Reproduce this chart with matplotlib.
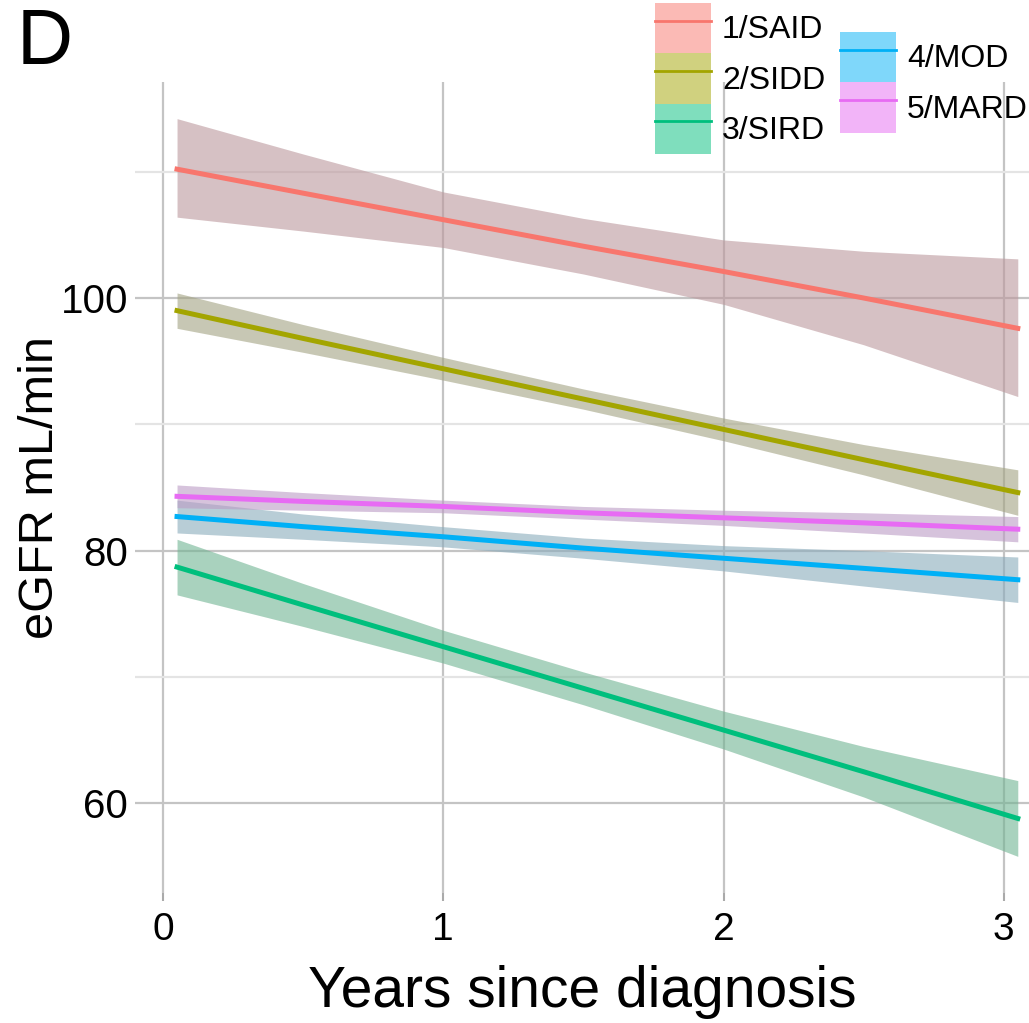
import matplotlib
matplotlib.use("Agg")
import matplotlib.pyplot as plt
from matplotlib.patches import Patch
from matplotlib.lines import Line2D

plt.rcParams['font.family'] = ['Liberation Sans', 'DejaVu Sans']

years = [0.05, 0.5, 1.0, 1.5, 2.0, 2.5, 3.05]

groups = ['1/SAID', '2/SIDD', '3/SIRD', '4/MOD', '5/MARD']
line_colors = ['#F8766D', '#A3A500', '#00BF7D', '#00B0F6', '#E76BF3']
band_colors = ['#bc989d', '#a3a382', '#71b493', '#8aacbc', '#bc9bc5']

said_fit = [110.2, 108.3, 106.2, 104.1, 102.1, 100.0, 97.6]
said_hi = [114.2, 111.4, 108.4, 106.3, 104.6, 103.7, 103.1]
said_lo = [106.4, 105.3, 104.0, 101.9, 99.5, 96.3, 92.2]

sidd_fit = [99.0, 96.8, 94.4, 92.0, 89.6, 87.2, 84.6]
sidd_hi = [100.4, 97.9, 95.3, 92.8, 90.5, 88.4, 86.4]
sidd_lo = [97.6, 95.7, 93.5, 91.2, 88.7, 86.0, 82.8]

sird_fit = [78.7, 75.7, 72.4, 69.1, 65.8, 62.5, 58.8]
sird_hi = [80.9, 77.4, 73.7, 70.4, 67.3, 64.5, 61.8]
sird_lo = [76.5, 74.0, 71.1, 67.8, 64.3, 60.5, 55.8]

mod_fit = [82.7, 81.9, 81.1, 80.2, 79.4, 78.6, 77.7]
mod_hi = [84.0, 82.9, 81.9, 81.0, 80.4, 80.0, 79.5]
mod_lo = [81.4, 80.9, 80.3, 79.4, 78.4, 77.2, 75.9]

mard_fit = [84.3, 83.9, 83.5, 83.0, 82.6, 82.2, 81.7]
mard_hi = [85.2, 84.6, 84.0, 83.5, 83.2, 83.0, 82.7]
mard_lo = [83.4, 83.2, 83.0, 82.5, 82.0, 81.4, 80.7]

fits = [said_fit, sidd_fit, sird_fit, mod_fit, mard_fit]
his = [said_hi, sidd_hi, sird_hi, mod_hi, mard_hi]
los = [said_lo, sidd_lo, sird_lo, mod_lo, mard_lo]

fig = plt.figure(figsize=(10.29, 10.23), dpi=100)
ax = fig.add_axes([135 / 1029, 130 / 1023, 894 / 1029, 811 / 1023])

for i in range(len(groups)):
    ax.fill_between(years, los[i], his[i], color=band_colors[i], alpha=0.6, lw=0, zorder=2)
    ax.plot(years, fits[i], color=line_colors[i], lw=3.6, zorder=3)

ax.set_xlim(-0.1, 3.09)
ax.set_ylim(52.9, 117.1)
ax.set_xticks([0, 1, 2, 3])
ax.set_yticks([60, 80, 100])
ax.set_yticks([70, 90, 110], minor=True)
ax.grid(True, which='major', color='#c4c4c4', lw=1.6, zorder=0)
ax.grid(True, which='minor', axis='y', color='#e4e4e4', lw=1.6, zorder=0)
ax.set_axisbelow(True)
for s in ax.spines.values():
    s.set_visible(False)
ax.tick_params(axis='y', which='both', length=0, labelsize=29, pad=5)
ax.tick_params(axis='x', length=6, width=1.5, color='#aaaaaa', labelsize=28, pad=8)

ax.set_xlabel('Years since diagnosis', fontsize=41, labelpad=12)
ax.set_ylabel('eGFR mL/min', fontsize=35, labelpad=-2)

fig.text(0.016, 0.993, 'D', fontsize=56, va='top', ha='left')

# legend in two columns, transparent background
def make_handles(idx):
    return [(Patch(facecolor=line_colors[i], alpha=0.5, lw=0),
             Line2D([], [], color=line_colors[i], lw=2)) for i in idx]

leg_kw = dict(loc='upper left', frameon=False, fontsize=23, handlelength=1.75,
              handleheight=2.05, labelspacing=0.0, handletextpad=0.35,
              borderpad=0, borderaxespad=0)
leg1 = fig.legend(make_handles([0, 1, 2]), groups[:3],
                  bbox_to_anchor=(655 / 1029, 1 - 3 / 1023), **leg_kw)
leg2 = fig.legend(make_handles([3, 4]), groups[3:],
                  bbox_to_anchor=(840 / 1029, 1 - 32 / 1023), **leg_kw)

fig.savefig('out.png', dpi=100)
